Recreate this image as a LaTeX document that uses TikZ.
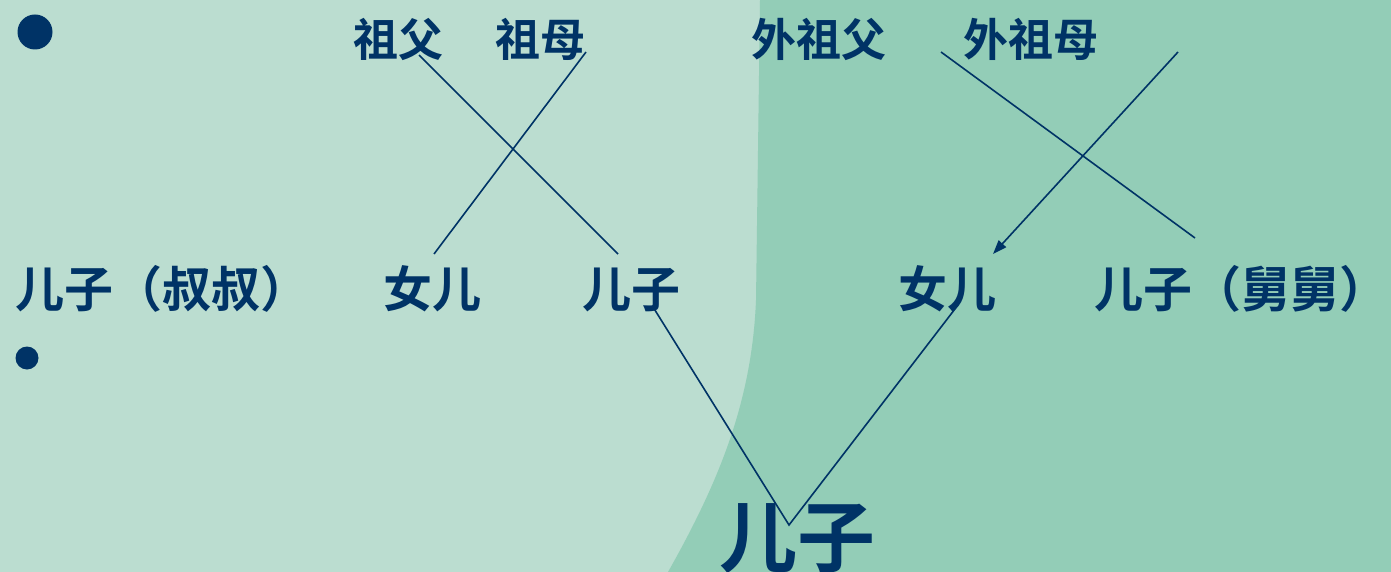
\documentclass[tikz,border=0pt]{standalone}
\usepackage{fontspec}
\newfontfamily\cjk{Noto Sans CJK SC}[BoldFont={Noto Sans CJK SC Bold}]
\usetikzlibrary{arrows.meta}
\definecolor{bgL}{HTML}{BBDDD0}
\definecolor{bgR}{HTML}{93CDB7}
\definecolor{ink}{HTML}{003366}
\tikzset{
 lbl/.style={inner sep=0pt, anchor=base, text=ink, font=\cjk\bfseries\fontsize{45}{45}\selectfont},
 lblm/.style={lbl, font=\cjk\bfseries\fontsize{49}{49}\selectfont},
 lblb/.style={lbl, font=\cjk\bfseries\fontsize{78}{78}\selectfont},
 link/.style={draw=ink, line width=1.6pt},
 arr/.style={link, -{Triangle[length=14pt,width=10pt]}},
 bullet/.style={fill=ink}
}
\begin{document}
\begin{tikzpicture}[x=1pt,y=-1pt]
\useasboundingbox (0,0) rectangle (1391,572);
\fill[bgL] (0,0) rectangle (1391,572);
\fill[bgR] (760,0) -- (756,300) .. controls (752,400) and (720,480) .. (668,572) -- (1391,572) -- (1391,0) -- cycle;
% bullets
\fill[bullet] (35,32) circle (17.5);
\fill[bullet] (27,358) circle (11.5);
% labels
\node[lbl] (zf) at (398,57) {祖父};
\node[lbl] (zm) at (540,57) {祖母};
\node[lbl] (wzf) at (819,57) {外祖父};
\node[lbl] (wzm) at (1031,57) {外祖母};
\node[lblm] (s1) at (162,307) {儿子（叔叔）};
\node[lblm] (d1) at (432,307) {女儿};
\node[lblm] (s2) at (631,307) {儿子};
\node[lblm] (d2) at (947,307) {女儿};
\node[lblm] (s3) at (1241,307) {儿子（舅舅）};
\node[lblb] (me) at (797,566) {儿子};
% connector ends
\coordinate (zf-a) at (419,55);
\coordinate (s2-a) at (618,254);
\coordinate (zm-a) at (586,52);
\coordinate (d1-a) at (434,254);
\coordinate (wzf-a) at (941,52);
\coordinate (s3-a) at (1195,238);
\coordinate (wzm-a) at (1178,52);
\coordinate (d2-a) at (993,254);
\coordinate (s2-b) at (653,307);
\coordinate (me-a) at (789,525);
\coordinate (d2-b) at (958,305);
% connectors
\draw[link] (zf-a) -- (s2-a);
\draw[link] (zm-a) -- (d1-a);
\draw[link] (wzf-a) -- (s3-a);
\draw[arr] (wzm-a) -- (d2-a);
\draw[link] (s2-b) -- (me-a) -- (d2-b);
\end{tikzpicture}
\end{document}
